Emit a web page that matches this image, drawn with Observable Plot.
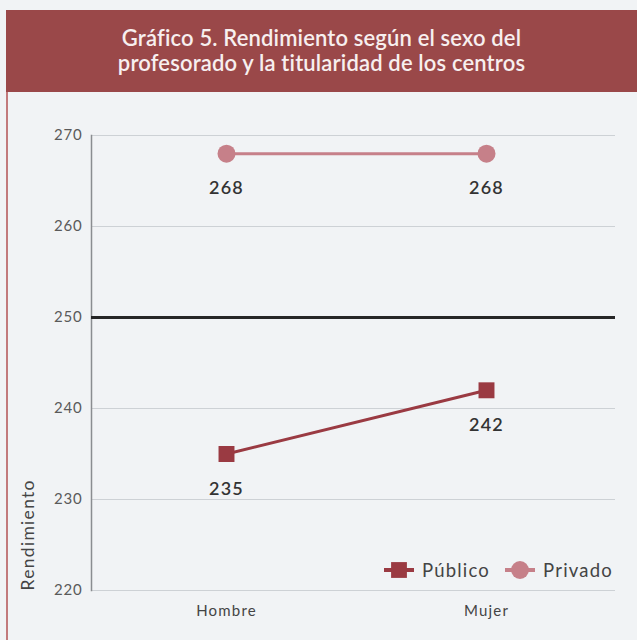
<!DOCTYPE html>
<html><head><meta charset="utf-8">
<script src="https://cdn.jsdelivr.net/npm/d3@7"></script>
<script src="https://cdn.jsdelivr.net/npm/@observablehq/plot@0.6"></script>
<style>
html,body{margin:0;padding:0;background:#f1f3f5;width:637px;height:640px;overflow:hidden;font-family:Lato,"Open Sans",sans-serif;}
#title{position:absolute;left:6px;top:10px;width:631px;height:82px;background:#9a4849;color:#f7efef;font-family:Lato,sans-serif;font-weight:600;font-size:22px;line-height:25px;text-align:center;box-sizing:border-box;padding-top:15px;letter-spacing:0.15px;}
#border{position:absolute;left:6px;top:92px;width:2px;height:548px;background:#c27a7c;}
#chart{position:absolute;left:8px;top:92px;}
#legend{position:absolute;left:383px;top:559px;font-size:18.5px;letter-spacing:1.2px;color:#444;display:flex;align-items:center;font-family:Lato,sans-serif;}
#legend span{margin-right:14px;}
#chart g[aria-label="y-axis tick label"] text{letter-spacing:0.8px;}
#chart g[aria-label="x-axis tick label"] text{letter-spacing:1.2px;}
#chart g[aria-label="text"] text{letter-spacing:1.3px;}
</style></head>
<body>
<div id="title">Gráfico 5. Rendimiento según el sexo del<br>profesorado y la titularidad de los centros</div>
<div id="border"></div>
<div id="chart"></div>
<div id="legend"></div>
<script>
const sexes = ["Hombre", "Mujer"];
const publico = [235, 242];
const privado = [268, 268];
const seriesNames = ["Público", "Privado"];
const yTicks = [220, 230, 240, 250, 260, 270];
const referenceValue = [250];
const yLabel = "Rendimiento";

const colors = {"Público": "#9a3a42", "Privado": "#c68089"};
const symbols = {"Público": "square", "Privado": "circle"};

const data = [];
sexes.forEach((s, i) => data.push({sexo: s, serie: "Público", valor: publico[i]}));
sexes.forEach((s, i) => data.push({sexo: s, serie: "Privado", valor: privado[i]}));

const chart = Plot.plot({
  width: 629,
  height: 548,
  marginTop: 43,
  marginBottom: 50,
  marginLeft: 83,
  marginRight: 22,
  style: {background: "transparent", fontFamily: "Lato, sans-serif"},
  x: {type: "point", domain: sexes, padding: 0.504, align: 0.513, label: null},
  y: {domain: [220, 270], ticks: yTicks, label: null},
  marks: [
    Plot.gridY(yTicks, {stroke: "#cdd1d5", strokeOpacity: 1, strokeWidth: 1}),
    Plot.frame({anchor: "left", stroke: "#8a8d90", strokeWidth: 1.5}),
    Plot.ruleY(referenceValue, {stroke: "#262626", strokeWidth: 3}),
    Plot.axisY(yTicks, {tickSize: 0, tickPadding: 9, fontSize: 15, fill: "#5a5a5a", tickFormat: d => String(d)}),
    Plot.axisX(sexes, {tickSize: 0, tickPadding: 15, fontSize: 15, fill: "#444", label: null}),
    Plot.text([yLabel], {frameAnchor: "bottom-left", rotate: -90, textAnchor: "start", dx: -58, dy: 0, fontSize: 17.5, fill: "#444", text: d => d}),
    Plot.line(data, {x: "sexo", y: "valor", z: "serie", stroke: d => colors[d.serie], strokeWidth: 3}),
    Plot.dot(data, {x: "sexo", y: "valor", symbol: d => symbols[d.serie], fill: d => colors[d.serie], r: 9, stroke: "none"}),
    Plot.text(data, {x: "sexo", y: "valor", text: d => String(d.valor), dy: 35, fontSize: 18, fontWeight: 600, fill: "#333", fontFamily: "Lato, sans-serif"})
  ]
});
document.getElementById("chart").appendChild(chart);

// legend
const legend = document.getElementById("legend");
seriesNames.forEach(name => {
  const ns = "http://www.w3.org/2000/svg";
  const svg = document.createElementNS(ns, "svg");
  svg.setAttribute("width", 32); svg.setAttribute("height", 20);
  svg.style.marginRight = "7px";
  const l = document.createElementNS(ns, "line");
  l.setAttribute("x1", 1); l.setAttribute("x2", 31); l.setAttribute("y1", 10); l.setAttribute("y2", 10);
  l.setAttribute("stroke", colors[name]); l.setAttribute("stroke-width", 4);
  svg.appendChild(l);
  const sym = d3.symbol(symbols[name] === "square" ? d3.symbolSquare : d3.symbolCircle, 250)();
  const p = document.createElementNS(ns, "path");
  p.setAttribute("d", sym); p.setAttribute("transform", "translate(16,10)"); p.setAttribute("fill", colors[name]);
  svg.appendChild(p);
  legend.appendChild(svg);
  const t = document.createElement("span"); t.textContent = name; legend.appendChild(t);
});
</script>
</body></html>
